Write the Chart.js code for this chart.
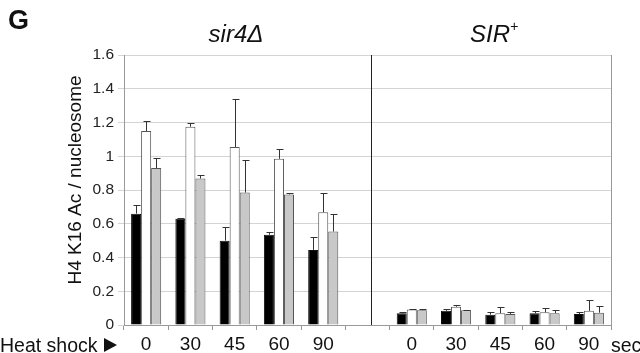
<!DOCTYPE html>
<html>
<head>
<meta charset="utf-8">
<script src="https://cdn.jsdelivr.net/npm/chart.js@4"></script>
<style>
  html, body { margin: 0; padding: 0; background: #fff; }
  #wrap { width: 640px; height: 353px; position: relative; }
</style>
</head>
<body>
<div id="wrap"><canvas id="chart"></canvas></div>
<script>
// heat shock time points (sec); blank slot separates the two strains
const categories = ['0', '30', '45', '60', '90', '', '0', '30', '45', '60', '90'];
const yTicks = [0, 0.2, 0.4, 0.6, 0.8, 1, 1.2, 1.4, 1.6];

// sir4Δ values, then gap, then SIR+ values
const blackVals = [0.66, 0.63, 0.50, 0.535, 0.445, null, 0.069, 0.084, 0.061, 0.07, 0.065];
const whiteVals = [1.15, 1.175, 1.055, 0.985, 0.668, null, 0.092, 0.108, 0.07, 0.075, 0.084];
const grayVals  = [0.93, 0.868, 0.785, 0.774, 0.554, null, 0.088, 0.088, 0.065, 0.07, 0.073];

// upper error bar ends
const blackErr = [0.711, 0.636, 0.578, 0.554, 0.523, null, 0.08, 0.092, 0.078, 0.084, 0.078];
const whiteErr = [1.21, 1.2, 1.338, 1.044, 0.783, null, 0.095, 0.116, 0.104, 0.1, 0.149];
const grayErr  = [0.99, 0.89, 0.975, 0.785, 0.656, null, 0.094, 0.09, 0.08, 0.086, 0.11];

const FONT = '"Liberation Sans", Arial, sans-serif';

const errorBars = {
  id: 'errorBars',
  afterDatasetsDraw(chart) {
    const ctx = chart.ctx;
    const y = chart.scales.y;
    const tops = [blackErr, whiteErr, grayErr];
    ctx.save();
    ctx.strokeStyle = '#333';
    ctx.lineWidth = 1;
    tops.forEach((arr, di) => {
      const meta = chart.getDatasetMeta(di);
      meta.data.forEach((bar, i) => {
        if (arr[i] == null) return;
        const x = Math.round(bar.x) + 0.5;
        const yt = Math.round(y.getPixelForValue(arr[i])) + 0.5;
        ctx.beginPath();
        ctx.moveTo(x, bar.y);
        ctx.lineTo(x, yt);
        ctx.moveTo(x - 3, yt);
        ctx.lineTo(x + 4, yt);
        ctx.stroke();
      });
    });
    ctx.restore();
  }
};

const decorations = {
  id: 'decorations',
  afterDraw(chart) {
    const ctx = chart.ctx;
    const a = chart.chartArea;
    const xs = chart.scales.x;
    ctx.save();
    // right border
    ctx.strokeStyle = '#999';
    ctx.lineWidth = 1;
    ctx.beginPath();
    ctx.moveTo(Math.round(a.right) + 0.5, a.top);
    ctx.lineTo(Math.round(a.right) + 0.5, a.bottom);
    ctx.stroke();
    // divider between strains
    const dx = Math.round(xs.getPixelForValue(5)) + 3.5;
    ctx.strokeStyle = '#222';
    ctx.beginPath();
    ctx.moveTo(dx, a.top);
    ctx.lineTo(dx, a.bottom);
    ctx.stroke();

    ctx.fillStyle = '#111';
    ctx.textBaseline = 'alphabetic';
    ctx.font = 'bold 27px ' + FONT;
    ctx.textAlign = 'left';
    ctx.fillText('G', 8, 29);

    ctx.font = 'italic 24px ' + FONT;
    ctx.textAlign = 'center';
    ctx.fillText('sir4Δ', 236, 42);
    ctx.fillText('SIR', 490, 42);
    ctx.font = 'italic 14px ' + FONT;
    ctx.textAlign = 'left';
    ctx.fillText('+', 510, 31);

    ctx.font = '19.5px ' + FONT;
    ctx.fillText('Heat shock', 0, 352);
    ctx.beginPath();
    ctx.moveTo(104, 338);
    ctx.lineTo(117, 345);
    ctx.lineTo(104, 352);
    ctx.closePath();
    ctx.fill();
    ctx.fillText('sec', 611, 352);

    // y axis title
    ctx.save();
    ctx.translate(81, 180);
    ctx.rotate(-Math.PI / 2);
    ctx.textAlign = 'center';
    ctx.font = '19px ' + FONT;
    ctx.fillText('H4 K16 Ac / nucleosome', 0, 0);
    ctx.restore();
    ctx.restore();
  }
};

new Chart(document.getElementById('chart'), {
  type: 'bar',
  data: {
    labels: categories,
    datasets: [
      { data: blackVals, backgroundColor: '#000', borderColor: '#111', borderWidth: 1 },
      { data: whiteVals, backgroundColor: '#fff', borderColor: '#555', borderWidth: 1 },
      { data: grayVals, backgroundColor: '#c8c8c8', borderColor: '#555', borderWidth: 1 }
    ]
  },
  options: {
    responsive: true,
    maintainAspectRatio: false,
    animation: false,
    layout: { padding: { top: 55, right: 29, left: 0, bottom: 0 } },
    plugins: { legend: { display: false }, tooltip: { enabled: false } },
    datasets: { bar: { categoryPercentage: 0.68, barPercentage: 1.0 } },
    scales: {
      x: {
        grid: { offset: true, drawOnChartArea: false, tickLength: 5, color: '#999' },
        border: { color: '#999' },
        ticks: { color: '#111', font: { size: 19, family: FONT }, padding: 3, maxRotation: 0, autoSkip: false },
        afterFit(s) { s.height = 28; }
      },
      y: {
        min: 0, max: 1.6,
        afterBuildTicks(s) { s.ticks = yTicks.map(v => ({ value: v })); },
        grid: { color: '#d4d4d4', tickLength: 6 },
        border: { color: '#999' },
        ticks: {
          color: '#222', padding: 4,
          font: { size: 15.5, family: FONT },
          callback: v => String(v)
        },
        afterFit(s) { s.width = 124; }
      }
    }
  },
  plugins: [errorBars, decorations]
});
</script>
</body>
</html>
